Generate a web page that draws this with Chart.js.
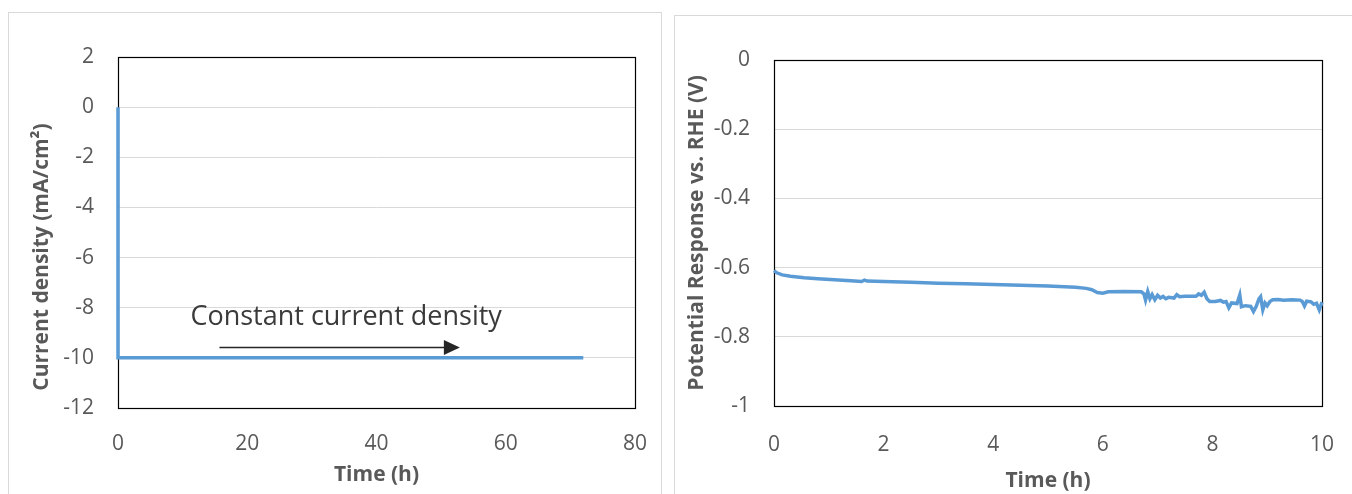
<!DOCTYPE html>
<html>
<head>
<meta charset="utf-8">
<script src="https://cdn.jsdelivr.net/npm/chart.js@4.4.1/dist/chart.umd.min.js"></script>
<style>
body{margin:0;background:#fff;width:1352px;height:494px;overflow:hidden;position:relative;}
.panel{position:absolute;border:1px solid #d9d9d9;box-sizing:border-box;}
.box{position:absolute;}
</style>
</head>
<body>
<div class="panel" style="left:8px;top:12px;width:654px;height:500px"></div>
<div class="panel" style="left:674px;top:15px;width:700px;height:500px"></div>
<div class="box" style="left:8px;top:12px;width:654px;height:482px"><canvas id="currentChart"></canvas></div>
<div class="box" style="left:675px;top:16px;width:677px;height:478px"><canvas id="potentialChart"></canvas></div>
<script>
// Applied current: steps from 0 to -10 mA/cm2 and is held for 72 h
const currentTime = [0, 0, 72];
const currentDensity = [0, -10, -10];

// Potential response over the first 10 h
const potentialTime = [0, 0.05, 0.15, 0.3, 0.55, 0.8, 1.1, 1.4, 1.6, 1.65, 1.7, 2.0, 2.5, 3.0, 3.5, 4.0, 4.5, 5.0, 5.3, 5.5,
  5.7, 5.8, 5.9, 6.0, 6.1, 6.4, 6.7, 6.75, 6.78, 6.82, 6.86, 6.9, 6.95, 7.0, 7.05, 7.1, 7.15, 7.2, 7.3, 7.35,
  7.4, 7.5, 7.6, 7.7, 7.75, 7.8, 7.85, 7.9, 7.95, 8.05, 8.15, 8.2, 8.25, 8.3, 8.35, 8.45, 8.5, 8.53, 8.6, 8.7,
  8.75, 8.8, 8.85, 8.88, 8.92, 8.96, 9.0, 9.05, 9.1, 9.2, 9.3, 9.45, 9.6, 9.64, 9.68, 9.72, 9.8, 9.85, 9.9, 9.95, 10.0];
const potential = [-0.609, -0.615, -0.621, -0.625, -0.629, -0.632, -0.635, -0.638, -0.640, -0.636, -0.639, -0.640, -0.642, -0.645, -0.647, -0.649, -0.651, -0.653, -0.655, -0.657,
  -0.660, -0.664, -0.672, -0.674, -0.670, -0.669, -0.670, -0.676, -0.694, -0.669, -0.690, -0.678, -0.693, -0.680, -0.688, -0.683, -0.690, -0.686, -0.688, -0.678,
  -0.684, -0.683, -0.683, -0.683, -0.676, -0.680, -0.671, -0.690, -0.698, -0.698, -0.695, -0.700, -0.698, -0.716, -0.702, -0.704, -0.679, -0.713, -0.710, -0.712,
  -0.727, -0.712, -0.690, -0.684, -0.722, -0.702, -0.710, -0.698, -0.693, -0.692, -0.694, -0.693, -0.694, -0.698, -0.711, -0.697, -0.699, -0.706, -0.703, -0.722, -0.700];

// Annotation on the left chart (data coordinates)
const noteText = 'Constant current density';
const notePos = [11.2, -8.4];
const arrowFrom = [15.7, -9.57];
const arrowTo = [52.9, -9.57];

const grey = '#595959';
const blue = '#5b9bd5';
const tickFont = {family: 'Open Sans', size: 21};
const titleFont = {family: 'Open Sans', size: 21, weight: 'bold'};

// closed black box round the plot area, drawn under the line
const frame = {
  id: 'frame',
  beforeDatasetsDraw(chart) {
    const {ctx, chartArea: a} = chart;
    ctx.save();
    ctx.strokeStyle = '#000';
    ctx.lineWidth = 1.2;
    ctx.strokeRect(Math.round(a.left) + 0.5, Math.round(a.top) + 0.5, Math.round(a.right - a.left), Math.round(a.bottom - a.top));
    ctx.restore();
  }
};

// y title (sits a bit below the plot centre) plus the arrow note
const notes = {
  id: 'notes',
  afterDatasetsDraw(chart) {
    const {ctx, scales: {x, y}} = chart;
    ctx.save();
    ctx.fillStyle = grey;
    ctx.font = 'bold 21px "Open Sans"';
    ctx.textAlign = 'center';
    ctx.textBaseline = 'middle';
    ctx.translate(34, 245);
    ctx.rotate(-Math.PI / 2);
    ctx.fillText('Current density (mA/cm²)', 0, 0);
    ctx.restore();

    ctx.save();
    ctx.fillStyle = '#3a3a3a';
    ctx.font = '27px "Open Sans"';
    ctx.textAlign = 'left';
    ctx.textBaseline = 'middle';
    ctx.fillText(noteText, x.getPixelForValue(notePos[0]), y.getPixelForValue(notePos[1]));
    const x1 = x.getPixelForValue(arrowFrom[0]);
    const x2 = x.getPixelForValue(arrowTo[0]);
    const ay = Math.round(y.getPixelForValue(arrowFrom[1])) + 0.5;
    ctx.strokeStyle = '#262626';
    ctx.lineWidth = 1.5;
    ctx.beginPath();
    ctx.moveTo(x1, ay);
    ctx.lineTo(x2 - 12, ay);
    ctx.stroke();
    ctx.fillStyle = '#262626';
    ctx.beginPath();
    ctx.moveTo(x2, ay);
    ctx.lineTo(x2 - 16, ay - 7.5);
    ctx.lineTo(x2 - 16, ay + 7.5);
    ctx.closePath();
    ctx.fill();
    ctx.restore();
  }
};

const lineData = (xs, ys) => xs.map((t, i) => ({x: t, y: ys[i]}));

new Chart(document.getElementById('currentChart'), {
  type: 'line',
  data: {
    datasets: [{
      data: lineData(currentTime, currentDensity),
      borderColor: blue,
      borderWidth: 3.5,
      pointRadius: 0,
      tension: 0,
      clip: 4
    }]
  },
  options: {
    responsive: true,
    maintainAspectRatio: false,
    animation: false,
    layout: {padding: {top: 45, right: 21, left: 0, bottom: 0}},
    plugins: {legend: {display: false}, tooltip: {enabled: false}},
    scales: {
      x: {
        type: 'linear', min: 0, max: 80,
        ticks: {stepSize: 20, padding: 15, color: grey, font: tickFont},
        grid: {display: false},
        border: {display: false},
        title: {display: true, text: 'Time (h)', color: grey, font: titleFont, padding: {top: 0, bottom: 6}},
        afterFit: (s) => { s.height = 86; }
      },
      y: {
        min: -12, max: 2,
        ticks: {stepSize: 2, padding: 24, color: grey, font: tickFont},
        grid: {color: '#d9d9d9', drawTicks: false},
        border: {display: false},
        afterFit: (s) => { s.width = 110; }
      }
    }
  },
  plugins: [frame, notes]
});

new Chart(document.getElementById('potentialChart'), {
  type: 'line',
  data: {
    datasets: [{
      data: lineData(potentialTime, potential),
      borderColor: blue,
      borderWidth: 3.5,
      pointRadius: 0,
      tension: 0,
      clip: 4
    }]
  },
  options: {
    responsive: true,
    maintainAspectRatio: false,
    animation: false,
    layout: {padding: {top: 44, right: 20, left: 0, bottom: 0}},
    plugins: {legend: {display: false}, tooltip: {enabled: false}},
    scales: {
      x: {
        type: 'linear', min: 0, max: 10,
        ticks: {stepSize: 2, padding: 18, color: grey, font: tickFont},
        grid: {display: false},
        border: {display: false},
        title: {display: true, text: 'Time (h)', color: grey, font: titleFont, padding: {top: 0, bottom: 0}},
        afterFit: (s) => { s.height = 88; }
      },
      y: {
        min: -1, max: 0,
        ticks: {stepSize: 0.2, padding: 24, color: grey, font: tickFont, callback: (v) => String(+v.toFixed(1))},
        grid: {color: '#d9d9d9', drawTicks: false},
        border: {display: false},
        title: {display: true, text: 'Potential Response vs. RHE (V)', color: grey, font: titleFont, padding: {top: 9, bottom: 0}},
        afterFit: (s) => { s.width = 99; }
      }
    }
  },
  plugins: [frame]
});
</script>
</body>
</html>
